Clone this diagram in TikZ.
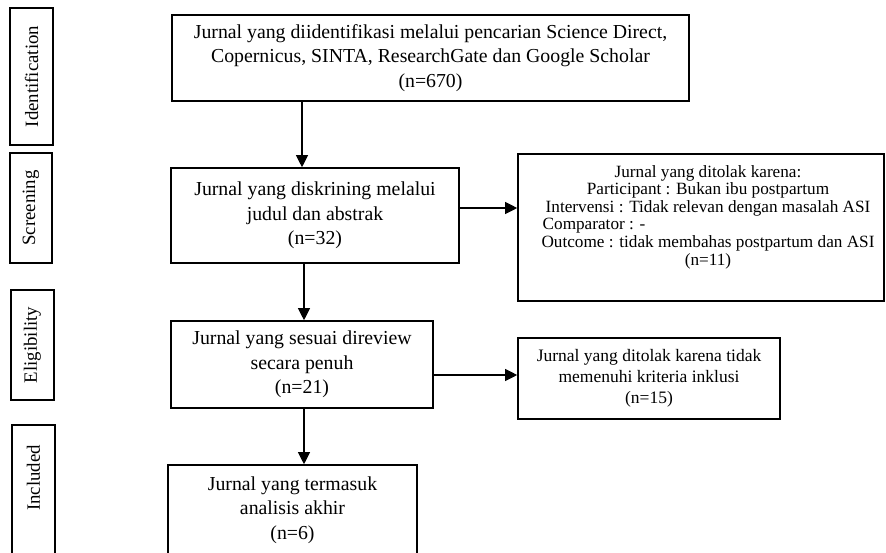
\documentclass[tikz,border=0pt]{standalone}
\usepackage{fontspec}
\setmainfont{Liberation Serif}
\usepackage{calc}
\usetikzlibrary{arrows.meta}
\tikzset{
  box/.style={draw=black, line width=1.6pt, align=center, inner sep=0pt, font=\fontsize{19.8}{24.5}\selectfont},
  frame/.style={draw=black, line width=1.6pt, inner sep=0pt},
  phase/.style={draw=black, line width=1.6pt, rotate=90, inner sep=0pt, font=\fontsize{18.8}{20}\selectfont},
  phasetext/.style={rotate=90, inner sep=0pt, font=\fontsize{18.8}{20}\selectfont},
  arr/.style={draw=black, line width=1.1pt, -{Triangle[length=12pt,width=12pt]}},
}
\begin{document}
\begin{tikzpicture}[x=1pt,y=-1pt]
\useasboundingbox (0,0) rectangle (886,552);
\clip (0,0) rectangle (886,552);
% phase labels
\node[phase, minimum width=137, minimum height=43] (pid) at (31.5,76.5) {Identification};
\node[phase, minimum width=110, minimum height=42] (psc) at (31,208) {Screening};
\node[phase, minimum width=110, minimum height=43] (pel) at (32.5,345) {Eligibility};
\node[frame, minimum width=43, minimum height=135] (pin) at (33.5,492.5) {};
\node[phasetext] (pintext) at (33.5,478) {Included};
% main boxes
\node[box, minimum width=517, minimum height=86] (b1) at (430.5,58)
  {Jurnal yang diidentifikasi melalui pencarian Science Direct,\\
   Copernicus, SINTA, ResearchGate dan Google Scholar\\ (n=670)};
\node[box, minimum width=288, minimum height=95] (b2) at (315,215.5)
  {Jurnal yang diskrining melalui\\ judul dan abstrak\\ (n=32)};
\node[box, minimum width=262, minimum height=87] (b3) at (302,364.5)
  {Jurnal yang sesuai direview\\ secara penuh\\ (n=21)};
\node[box, minimum width=249, minimum height=90] (b4) at (292.5,510)
  {Jurnal yang termasuk\\ analisis akhir\\ (n=6)};
% excluded boxes
\node[frame, minimum width=366, minimum height=147] (r1) at (701,227.5) {};
\node[align=center, inner sep=0pt, font=\fontsize{17.2}{17.6}\selectfont] (r1text) at (708,217)
  {Jurnal yang ditolak karena:\\
   Participant : Bukan ibu postpartum\\
   Intervensi : Tidak relevan dengan masalah ASI\\
   \makebox[\widthof{Intervensi : Tidak relevan dengan masalah ASI}][l]{\hspace{-3pt}Comparator : -}\\
   Outcome : tidak membahas postpartum dan ASI\\
   (n=11)};
\node[box, minimum width=262, minimum height=81, font=\fontsize{17.5}{21}\selectfont] (r2) at (649,378.5)
  {Jurnal yang ditolak karena tidak\\ memenuhi kriteria inklusi\\ (n=15)};
% connectors
\coordinate (xa) at (302,0);
\coordinate (xb) at (304,0);
\coordinate (ya) at (0,208);
\coordinate (yb) at (0,375);
\draw[arr] (b1.south -| xa) -- (b2.north -| xa);
\draw[arr] (b2.south -| xb) -- (b3.north -| xb);
\draw[arr] (b3.south -| xb) -- (b4.north -| xb);
\draw[arr] (b2.east |- ya) -- (r1.west |- ya);
\draw[arr] (b3.east |- yb) -- (r2.west |- yb);
\end{tikzpicture}
\end{document}
